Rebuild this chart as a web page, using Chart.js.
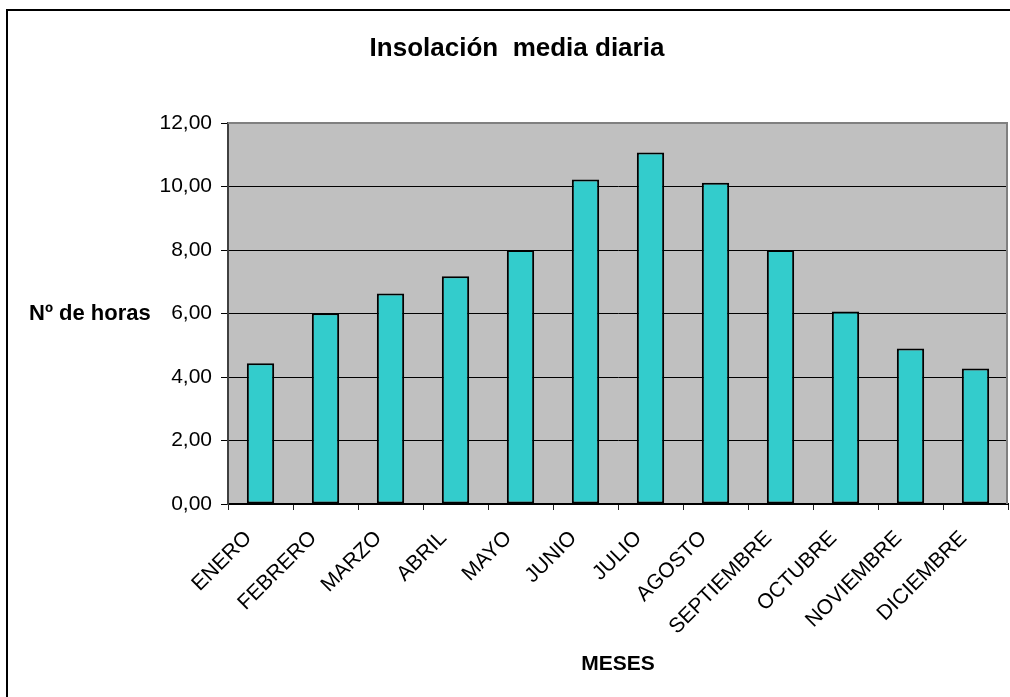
<!DOCTYPE html>
<html>
<head>
<meta charset="utf-8">
<script src="https://cdn.jsdelivr.net/npm/chart.js@4.4.1/dist/chart.umd.min.js"></script>
<style>
  html, body { margin: 0; padding: 0; background: #fff; overflow: hidden; }
  #wrap { position: relative; width: 1010px; height: 697px; overflow: hidden; }
  #frame { position: absolute; left: 6px; top: 9px; width: 1020px; height: 720px; border: 2px solid #000; }
  canvas { position: absolute; left: 0; top: 0; }
</style>
</head>
<body>
<div id="wrap">
  <div id="frame"></div>
  <canvas id="mainChart" width="1010" height="697"></canvas>
</div>
<script>
const months = ['ENERO', 'FEBRERO', 'MARZO', 'ABRIL', 'MAYO', 'JUNIO',
                'JULIO', 'AGOSTO', 'SEPTIEMBRE', 'OCTUBRE', 'NOVIEMBRE', 'DICIEMBRE'];
const hours = [4.43, 6.01, 6.63, 7.17, 8.00, 10.22, 11.07, 10.12, 8.00, 6.06, 4.90, 4.27];
const yMin = 0, yMax = 12, yStep = 2;

const titleText = 'Insolación  media diaria';
const yTitle = 'Nº de horas';
const xTitle = 'MESES';

const FONT = '"Liberation Sans", Arial, sans-serif';

// grey plot background, grey frame on top/right, and the horizontal titles
const plotDecor = {
    id: 'plotDecor',
    beforeDraw(chart) {
        const { ctx, chartArea: a } = chart;
        ctx.save();
        ctx.fillStyle = '#c0c0c0';
        ctx.fillRect(a.left, a.top, a.right - a.left, a.bottom - a.top);
        ctx.restore();
    },
    afterDatasetsDraw(chart) {
        const { ctx, chartArea: a } = chart;
        ctx.save();
        ctx.strokeStyle = '#808080';
        ctx.lineWidth = 2;
        ctx.beginPath();
        ctx.moveTo(a.left, a.top);
        ctx.lineTo(a.right - 1, a.top);
        ctx.lineTo(a.right - 1, a.bottom);
        ctx.stroke();
        ctx.restore();
    },
    afterDraw(chart) {
        const { ctx, chartArea: a } = chart;
        ctx.save();
        ctx.fillStyle = '#000';
        ctx.textBaseline = 'middle';

        ctx.font = 'bold 26px ' + FONT;
        ctx.textAlign = 'center';
        ctx.fillText(titleText, 517, 49);

        ctx.font = 'bold 21px ' + FONT;
        ctx.fillText(xTitle, (a.left + a.right) / 2, 664);

        ctx.font = 'bold 22px ' + FONT;
        ctx.textAlign = 'left';
        ctx.fillText(yTitle, 29, (a.top + a.bottom) / 2);
        ctx.restore();
    }
};

new Chart(document.getElementById('mainChart'), {
    type: 'bar',
    data: {
        labels: months,
        datasets: [{
            data: hours,
            backgroundColor: '#33cccc',
            borderColor: '#000',
            borderWidth: 2,
            borderSkipped: false,
            categoryPercentage: 1,
            barPercentage: 0.42
        }]
    },
    options: {
        responsive: false,
        animation: false,
        layout: { padding: { top: 123, right: 2, left: 0, bottom: 0 } },
        plugins: {
            legend: { display: false },
            tooltip: { enabled: false }
        },
        scales: {
            x: {
                afterFit: s => { s.height = 193; },
                grid: {
                    offset: true,
                    drawOnChartArea: false,
                    drawTicks: true,
                    tickLength: 6,
                    color: '#202020'
                },
                border: { color: '#000', width: 2 },
                ticks: {
                    minRotation: 45,
                    maxRotation: 45,
                    autoSkip: false,
                    padding: 16,
                    labelOffset: -12,
                    color: '#000',
                    font: { family: FONT, size: 21 }
                }
            },
            y: {
                min: yMin,
                max: yMax,
                afterFit: s => { s.width = 228; },
                grid: { color: '#000', lineWidth: 1, tickLength: 7 },
                border: { color: '#404040', width: 2 },
                ticks: {
                    stepSize: yStep,
                    padding: 9,
                    color: '#000',
                    font: { family: FONT, size: 21 },
                    callback: v => v.toFixed(2).replace('.', ',')
                }
            }
        }
    },
    plugins: [plotDecor]
});
</script>
</body>
</html>
